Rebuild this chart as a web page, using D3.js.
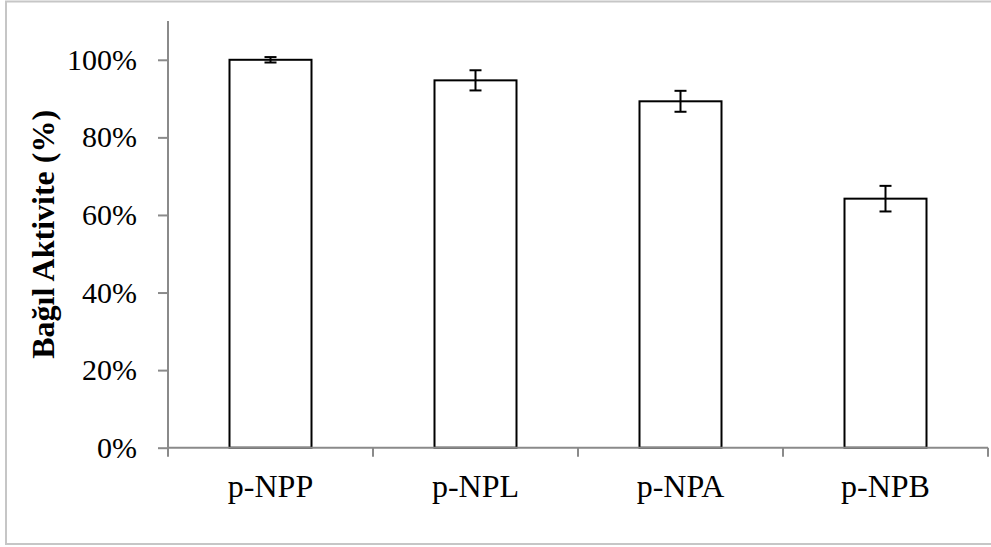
<!DOCTYPE html>
<html>
<head>
<meta charset="utf-8">
<script src="https://cdn.jsdelivr.net/npm/d3@7"></script>
<style>
  html, body { margin: 0; padding: 0; background: #fff; }
  svg { display: block; }
</style>
</head>
<body>
<svg id="chart" width="991" height="547"></svg>
<script>
// Substrate categories and relative activity (fraction of p-NPP) with standard errors
const categories = ["p-NPP", "p-NPL", "p-NPA", "p-NPB"];
const activity = [1.00, 0.947, 0.893, 0.642];
const errors = [0.007, 0.026, 0.027, 0.033];
const yTicks = [0, 0.2, 0.4, 0.6, 0.8, 1.0];
const yTitle = "Bağıl Aktivite (%)";

const svg = d3.select("#chart");
const axisColor = "#8a8a8a";
const font = "'Liberation Serif', 'Times New Roman', serif";

// frame around the chart area
svg.append("rect")
  .attr("x", 6).attr("y", 1.5)
  .attr("width", 1000).attr("height", 542.5)
  .attr("fill", "none")
  .attr("stroke", "#c6c6c6")
  .attr("stroke-width", 2);

const plot = { left: 168, right: 988, top: 21, bottom: 447.7 };

const x = d3.scaleBand()
  .domain(categories)
  .range([plot.left, plot.right])
  .paddingInner(0.6)
  .paddingOuter(0.3);

const y = d3.scaleLinear()
  .domain([0, 1.1])
  .range([plot.bottom, plot.top]);

const data = categories.map((c, i) => ({ cat: c, v: activity[i], e: errors[i] }));

// bars
svg.append("g").selectAll("rect")
  .data(data)
  .join("rect")
  .attr("x", d => x(d.cat))
  .attr("y", d => y(d.v))
  .attr("width", x.bandwidth())
  .attr("height", d => y(0) - y(d.v))
  .attr("fill", "#fff")
  .attr("stroke", "#000")
  .attr("stroke-width", 2);

// error bars
const eb = svg.append("g").attr("stroke", "#000").attr("stroke-width", 2);
data.forEach(d => {
  const cx = x(d.cat) + x.bandwidth() / 2;
  const y1 = y(d.v + d.e), y2 = y(d.v - d.e);
  eb.append("line").attr("x1", cx).attr("x2", cx).attr("y1", y1).attr("y2", y2);
  [y1, y2].forEach(yy => {
    eb.append("line").attr("x1", cx - 6).attr("x2", cx + 6).attr("y1", yy).attr("y2", yy);
  });
});

// y axis
const yAxis = svg.append("g")
  .attr("transform", `translate(${plot.left},0)`)
  .call(d3.axisLeft(y).tickValues(yTicks).tickSize(10).tickSizeOuter(0)
    .tickFormat(d3.format(".0%")).tickPadding(21));
yAxis.select(".domain").attr("stroke", axisColor).attr("stroke-width", 2)
  .attr("d", `M0,${plot.bottom}V${plot.top}`);
yAxis.selectAll(".tick line").attr("stroke", axisColor).attr("stroke-width", 2);
yAxis.selectAll(".tick text")
  .attr("fill", "#000")
  .style("font-family", font)
  .style("font-size", "30px");

// x axis: ticks at category boundaries
const step = x.step();
const boundaries = d3.range(categories.length + 1).map(i => plot.left + i * step);
const xg = svg.append("g");
xg.append("line")
  .attr("x1", plot.left).attr("x2", plot.right)
  .attr("y1", plot.bottom).attr("y2", plot.bottom)
  .attr("stroke", axisColor).attr("stroke-width", 2);
xg.selectAll("line.tk")
  .data(boundaries)
  .join("line")
  .attr("class", "tk")
  .attr("x1", d => d).attr("x2", d => d)
  .attr("y1", plot.bottom).attr("y2", plot.bottom + 9)
  .attr("stroke", axisColor).attr("stroke-width", 2);
xg.selectAll("text")
  .data(categories)
  .join("text")
  .attr("x", d => x(d) + x.bandwidth() / 2)
  .attr("y", 497)
  .attr("text-anchor", "middle")
  .style("font-family", font)
  .style("font-size", "32px")
  .text(d => d);

// y axis title
svg.append("text")
  .attr("transform", `translate(54,${(plot.top + plot.bottom) / 2}) rotate(-90)`)
  .attr("text-anchor", "middle")
  .style("font-family", font)
  .style("font-weight", "bold")
  .style("font-size", "32px")
  .text(yTitle);
</script>
</body>
</html>
